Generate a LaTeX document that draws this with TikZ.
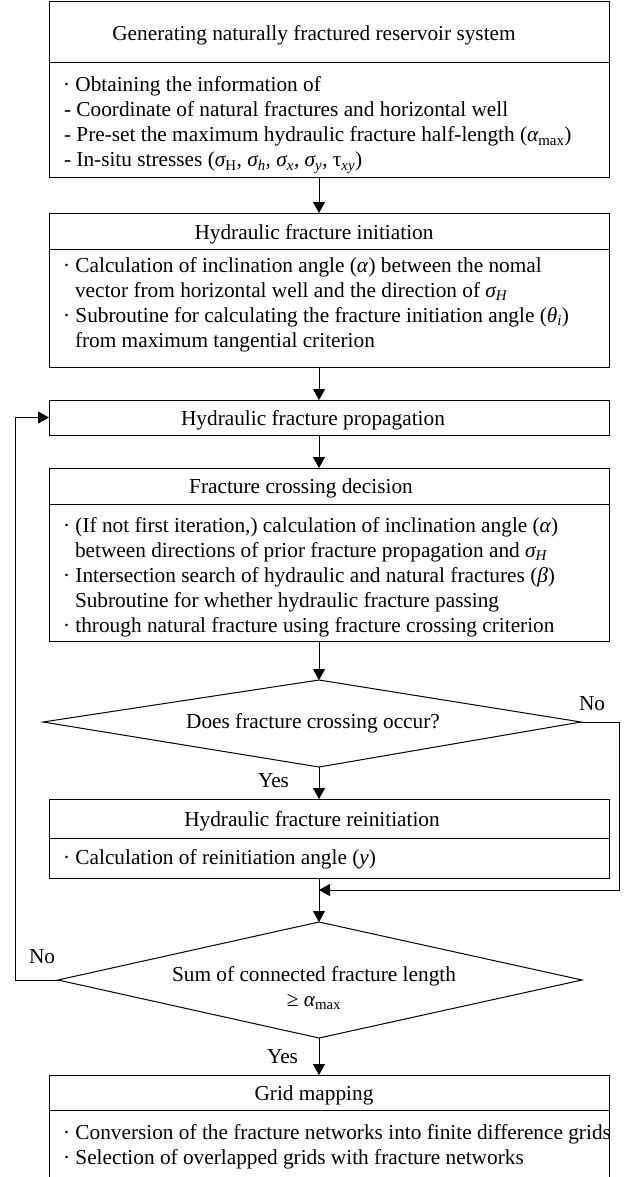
\documentclass[tikz,border=0pt]{standalone}
\usepackage{amsmath}
\usepackage{fontspec}
\setmainfont{Liberation Serif}
\usetikzlibrary{arrows.meta}
\newcommand{\gk}[1]{\textit{#1}}
\begin{document}
\begin{tikzpicture}[x=1pt,y=-1pt,
  every node/.style={inner sep=0pt,outer sep=0pt,font=\fontsize{21.3}{25}\selectfont},
  box/.style={draw,line width=1pt,minimum width=560pt,anchor=north west},
  ln/.style={anchor=base west},
  ttl/.style={anchor=base},
  lbl/.style={anchor=base west},
  edge/.style={line width=1pt},
  arr/.style={line width=1pt,-{Triangle[length=11pt,width=12pt]}}]
\useasboundingbox (0,0) rectangle (626,1177);
\fill[white] (0,0) rectangle (626,1177);
\clip (0,0) rectangle (626,1177);
\coordinate (ax) at (319,0);

% Box 1
\node[box,minimum height=176pt] (b1) at (49,2) {};
\draw[edge] (49,63) -- (609,63);
\node[ttl] (b1t) at (314,41) {Generating naturally fractured reservoir system};
\node[ln] (b1a) at (63,92) {· Obtaining the information of};
\node[ln] (b1b) at (64,117) {- Coordinate of natural fractures and horizontal well};
\node[ln] (b1c) at (64,142) {- Pre-set the maximum hydraulic fracture half-length ($\gk{α}_{\textrm{max}}$)};
\node[ln] (b1d) at (64,167) {- In-situ stresses ($\gk{σ}_{\textrm{H}}$, $\gk{σ}_{\gk{h}}$, $\gk{σ}_{\gk{x}}$, $\gk{σ}_{\gk{y}}$, $\textrm{τ}_{\gk{xy}}$)};

% Box 2
\node[box,minimum height=154pt] (b2) at (49,213) {};
\draw[edge] (49,249) -- (609,249);
\node[ttl] (b2t) at (314,239) {Hydraulic fracture initiation};
\node[ln] (b2a) at (63,272) {· Calculation of inclination angle (\gk{α}) between the nomal};
\node[ln] (b2b) at (75,297) {vector from horizontal well and the direction of $\gk{σ}_{\gk{H}}$};
\node[ln] (b2c) at (63,322) {· Subroutine for calculating the fracture initiation angle ($\gk{θ}_{\gk{i}}$)};
\node[ln] (b2d) at (75,347) {from maximum tangential criterion};

% Box 3
\node[box,minimum height=35pt] (b3) at (49,400) {};
\node[ttl] (b3t) at (313,425) {Hydraulic fracture propagation};

% Box 4
\node[box,minimum height=173pt] (b4) at (49,468) {};
\draw[edge] (49,504) -- (609,504);
\node[ttl] (b4t) at (301,493) {Fracture crossing decision};
\node[ln] (b4a) at (63,532) {· (If not first iteration,) calculation of inclination angle (\gk{α})};
\node[ln] (b4b) at (75,557) {between directions of prior fracture propagation and $\gk{σ}_{\gk{H}}$};
\node[ln] (b4c) at (63,582) {· Intersection search of hydraulic and natural fractures (\gk{β})};
\node[ln] (b4d) at (75,607) {Subroutine for whether hydraulic fracture passing};
\node[ln] (b4e) at (63,632) {· through natural fracture using fracture crossing criterion};

% Diamond 1
\coordinate (d1l) at (43,722);
\coordinate (d1t) at (319,680);
\coordinate (d1r) at (581,722);
\coordinate (d1b) at (319,767);
\draw[edge,line join=miter] (d1l) -- (d1t) -- (d1r) -- (d1b) -- cycle;
\node[ttl] (d1x) at (313,728) {Does fracture crossing occur?};

% Box 5
\node[box,minimum height=79pt] (b5) at (49,799) {};
\draw[edge] (49,838) -- (609,838);
\node[ttl] (b5t) at (312,826) {Hydraulic fracture reinitiation};
\node[ln] (b5a) at (63,864) {· Calculation of reinitiation angle (\gk{y})};

% Diamond 2
\coordinate (d2l) at (58,980);
\coordinate (d2t) at (319,922);
\coordinate (d2r) at (582,980);
\coordinate (d2b) at (319,1038);
\draw[edge,line join=miter] (d2l) -- (d2t) -- (d2r) -- (d2b) -- cycle;
\node[ttl] (d2x) at (314,981) {Sum of connected fracture length};
\node[ttl] (d2y) at (314,1006) {≥ $\gk{α}_{\textrm{max}}$};

% Box 6
\node[box,minimum height=150pt] (b6) at (49,1075) {};
\draw[edge] (49,1110) -- (609,1110);
\node[ttl] (b6t) at (314,1100) {Grid mapping};
\node[ln] (b6a) at (63,1139) {· Conversion of the fracture networks into finite difference grids};
\node[ln] (b6b) at (63,1164) {· Selection of overlapped grids with fracture networks};

% Connectors
\draw[arr] (b1.south -| ax) -- (b2.north -| ax);
\draw[arr] (b2.south -| ax) -- (b3.north -| ax);
\draw[arr] (b3.south -| ax) -- (b4.north -| ax);
\draw[arr] (b4.south -| ax) -- (d1t);
\draw[arr] (d1b) -- (b5.north -| ax);
\draw[arr] (b5.south -| ax) -- (d2t);
\draw[arr] (d2b) -- (b6.north -| ax);

\coordinate (c1) at (619,722);
\coordinate (c2) at (619,890);
\coordinate (mrg) at (319,890);
\draw[arr] (d1r) -- (c1) -- (c2) -- (mrg);

\coordinate (c3) at (15,980);
\draw[arr] (d2l) -- (c3) -- (c3 |- b3.west) -- (b3.west);

% Labels
\node[lbl] (no1) at (579,710) {No};
\node[lbl] (yes1) at (258,787) {Yes};
\node[lbl] (no2) at (29,963) {No};
\node[lbl] (yes2) at (267,1063) {Yes};
\end{tikzpicture}
\end{document}
